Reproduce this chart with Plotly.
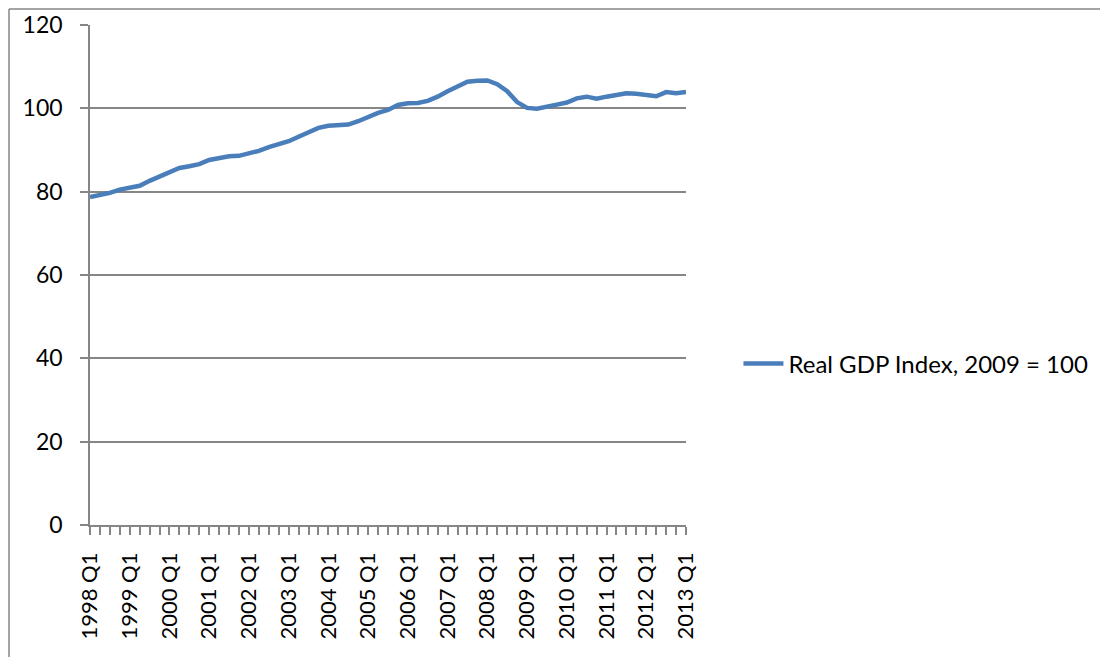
import plotly.graph_objects as go

years = list(range(1998, 2014))
quarters = [f"{y} Q{q}" for y in years for q in range(1, 5)][:61]  # 1998 Q1 .. 2013 Q1

gdp_index = [
    78.7, 79.2, 79.7, 80.5,   # 1998
    80.9, 81.4, 82.6, 83.7,   # 1999
    84.8, 85.7, 86.1, 86.6,   # 2000
    87.6, 88.0, 88.5, 88.6,   # 2001
    89.1, 89.8, 90.7, 91.5,   # 2002
    92.1, 93.2, 94.3, 95.3,   # 2003
    95.8, 96.0, 96.1, 96.9,   # 2004
    97.9, 98.9, 99.6, 100.8,  # 2005
    101.2, 101.3, 101.8, 102.8,  # 2006
    104.1, 105.4, 106.4, 106.6,  # 2007
    106.7, 105.8, 104.1, 101.5,  # 2008
    100.1, 99.9, 100.3, 100.9,   # 2009
    101.4, 102.4, 102.8, 102.3,  # 2010
    102.8, 103.1, 103.6, 103.5,  # 2011
    103.3, 102.9, 103.9, 103.6,  # 2012
    103.9,                       # 2013
]
series_name = "Real GDP Index, 2009 = 100"
y_ticks = [0, 20, 40, 60, 80, 100, 120]

tick_text = [q if q.endswith("Q1") else "" for q in quarters]

W, H = 1100, 649
ML, MR, MT, MB = 82, 422, 17, 132
GRAY = "#868686"
FONT = "Lato, 'Open Sans', 'Liberation Sans', sans-serif"

fig = go.Figure()
fig.add_trace(go.Scatter(
    x=quarters, y=gdp_index, mode="lines", name=series_name,
    line=dict(color="#4A7EBB", width=4.5),
))

pw = W - ML - MR
ph = H - MT - MB
# outer chart-area border (left and top edges visible)
bx0 = (1 - ML) / pw
by1 = (H - MB - 1) / ph
fig.add_shape(type="line", xref="paper", yref="paper",
              x0=bx0, x1=bx0, y0=-MB / ph - 0.05, y1=by1,
              line=dict(color=GRAY, width=1.5))
fig.add_shape(type="line", xref="paper", yref="paper",
              x0=bx0, x1=(W - ML) / pw + 0.05, y0=by1, y1=by1,
              line=dict(color=GRAY, width=1.5))

fig.update_layout(
    width=W, height=H,
    margin=dict(l=ML, r=MR, t=MT, b=MB, pad=0, autoexpand=False),
    paper_bgcolor="white", plot_bgcolor="white",
    font=dict(family=FONT, size=22, color="black"),
    showlegend=True,
    legend=dict(x=1.088, y=(H - MB - 356) / ph, xanchor="left", yanchor="middle",
                font=dict(family=FONT, size=24, color="black"),
                bgcolor="rgba(0,0,0,0)", itemwidth=40),
    xaxis=dict(
        type="category", range=[0, len(quarters) - 1],
        tickmode="array", tickvals=quarters, ticktext=tick_text,
        tickangle=-90, ticks="outside", ticklen=8, tickwidth=1.5, tickcolor=GRAY,
        showline=True, linecolor=GRAY, linewidth=1.5,
        showgrid=False, zeroline=False, automargin=False,
        tickfont=dict(family=FONT, size=22, color="black"),
        ticklabelstandoff=9,
    ),
    yaxis=dict(
        range=[0, 120], tickmode="array", tickvals=y_ticks,
        ticks="outside", ticklen=8, tickwidth=1.5, tickcolor=GRAY,
        showline=True, linecolor=GRAY, linewidth=1.5,
        showgrid=True, gridcolor=GRAY, gridwidth=1.5,
        zeroline=False, automargin=False,
        tickfont=dict(family=FONT, size=23, color="black"),
        ticklabelstandoff=13,
    ),
)

fig.write_html("out.html")
